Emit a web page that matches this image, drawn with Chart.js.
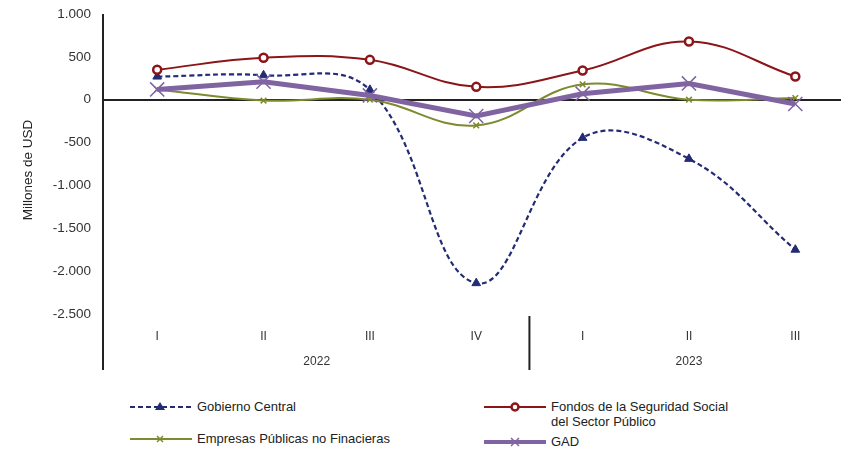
<!DOCTYPE html>
<html lang="es">
<head>
<meta charset="utf-8">
<title>Resultado por subsector</title>
<script src="https://cdn.jsdelivr.net/npm/chart.js@4.4.1/dist/chart.umd.min.js"></script>
<style>
  html, body { margin: 0; padding: 0; background: #fff; width: 841px; height: 454px; overflow: hidden; }
  #wrap { position: absolute; left: 0; top: 0; width: 860px; height: 380px; }
  .lg { position: absolute; font: 13px "Liberation Sans", Arial, sans-serif; color: #222; line-height: 15px; }
  .lg svg { position: absolute; left: 0; top: 0; }
  .lg span { position: absolute; left: 67px; top: -1px; white-space: nowrap; }
</style>
</head>
<body>
<div id="wrap"><canvas id="chart"></canvas></div>

<div class="lg" style="left:130px; top:400px;">
  <svg width="62" height="14"><line x1="0" y1="7" x2="62" y2="7" stroke="#232b74" stroke-width="2" stroke-dasharray="5,3"/>
    <polygon points="30,2 35,10 25,10" fill="#232b74"/></svg>
  <span>Gobierno Central</span>
</div>
<div class="lg" style="left:484px; top:400px;">
  <svg width="62" height="14"><line x1="0" y1="7" x2="62" y2="7" stroke="#8b1518" stroke-width="2"/>
    <circle cx="31" cy="7" r="3.5" fill="#fff" stroke="#8b1518" stroke-width="2.5"/></svg>
  <span>Fondos de la Seguridad Social<br>del Sector Público</span>
</div>
<div class="lg" style="left:130px; top:432px;">
  <svg width="62" height="14"><line x1="0" y1="7" x2="62" y2="7" stroke="#7f8a2e" stroke-width="2"/>
    <path d="M27,4 L33,10 M33,4 L27,10" stroke="#7f8a2e" stroke-width="1.5"/></svg>
  <span>Empresas Públicas no Finacieras</span>
</div>
<div class="lg" style="left:484px; top:435px;">
  <svg width="62" height="14"><line x1="0" y1="7" x2="62" y2="7" stroke="#8064a2" stroke-width="4"/>
    <path d="M27,3 L35,11 M35,3 L27,11" stroke="#8064a2" stroke-width="1.5"/></svg>
  <span>GAD</span>
</div>

<script>
// ---- data (millones de USD) ----
const quarters  = ['I', 'II', 'III', 'IV', 'I', 'II', 'III'];
const years     = ['2022', '2023'];
const yearSpans = [[0, 3], [4, 6]];          // first/last quarter index of each year
const gobiernoCentral = [270, 285, 115, -2140, -445, -690, -1750];
const fondosSeguridad = [350, 490, 465, 150, 340, 680, 270];
const empresasPublicas = [120, -10, 0, -300, 180, 0, 20];
const gad = [120, 210, 50, -190, 70, 190, -50];
const yTicks = [1000, 500, 0, -500, -1000, -1500, -2000, -2500];
const yTitle = 'Millones de USD';

const navy = '#232b74';
const red = '#8b1518';
const olive = '#7f8a2e';
const purple = '#8064a2';
const ink = '#333';
const FONT = '"Liberation Sans", Arial, sans-serif';

const fmt = v => {
    const s = Math.abs(v).toString().replace(/\B(?=(\d{3})+(?!\d))/g, '.');
    return (v < 0 ? '-' : '') + s;
};

// year row, axis extensions below the quarter labels, y title
const groupAxis = {
    id: 'groupAxis',
    afterDraw(chart) {
        const { ctx, chartArea, scales: { x } } = chart;
        ctx.save();
        ctx.strokeStyle = '#222';
        ctx.lineWidth = 2;
        ctx.beginPath();
        ctx.moveTo(chartArea.left - 1, chartArea.top);
        ctx.lineTo(chartArea.left - 1, 370);
        const sep = (x.getPixelForValue(3) + x.getPixelForValue(4)) / 2;
        ctx.moveTo(sep, chartArea.bottom + 2);
        ctx.lineTo(sep, 370);
        ctx.stroke();

        ctx.fillStyle = ink;
        ctx.font = '12px ' + FONT;
        ctx.textAlign = 'center';
        ctx.textBaseline = 'middle';
        years.forEach((yr, i) => {
            const [a, b] = yearSpans[i];
            const cx = (x.getPixelForValue(a) + x.getPixelForValue(b)) / 2;
            ctx.fillText(yr, cx, 362);
        });

        ctx.translate(28, 170);
        ctx.rotate(-Math.PI / 2);
        ctx.fillStyle = '#222';
        ctx.font = '13.5px ' + FONT;
        ctx.fillText(yTitle, 0, 0);
        ctx.restore();
    }
};

Chart.defaults.font.family = FONT;
Chart.defaults.color = ink;

new Chart(document.getElementById('chart'), {
    type: 'line',
    data: {
        labels: quarters,
        datasets: [
            {
                label: 'Gobierno Central', data: gobiernoCentral, order: 3,
                borderColor: navy, backgroundColor: navy, borderWidth: 2.2, borderDash: [5, 3],
                tension: 0.4, pointStyle: 'triangle', pointRadius: 5, pointBorderWidth: 1
            },
            {
                label: 'Fondos de la Seguridad Social del Sector Público', data: fondosSeguridad, order: 2,
                borderColor: red, backgroundColor: '#fff', borderWidth: 2,
                tension: 0.4, pointStyle: 'circle', pointRadius: 4, pointBorderWidth: 2.5
            },
            {
                label: 'Empresas Públicas no Finacieras', data: empresasPublicas, order: 1,
                borderColor: olive, backgroundColor: olive, borderWidth: 2,
                tension: 0.4, pointStyle: 'crossRot', pointRadius: 4, pointBorderWidth: 1.5
            },
            {
                label: 'GAD', data: gad, order: 0,
                borderColor: purple, backgroundColor: purple, borderWidth: 5,
                tension: 0, pointStyle: 'crossRot', pointRadius: 10, pointBorderWidth: 1.5
            }
        ]
    },
    options: {
        responsive: true, maintainAspectRatio: false, animation: false,
        layout: { padding: { top: 14, right: 6, left: 0, bottom: 0 } },
        plugins: { legend: { display: false }, tooltip: { enabled: false } },
        scales: {
            x: {
                type: 'category', offset: true,
                grid: { display: false, drawTicks: false },
                border: { display: false },
                ticks: { font: { size: 12 }, color: ink, padding: 15, maxRotation: 0, autoSkip: false },
                afterFit: s => { s.height = 66; }
            },
            y: {
                min: -2500, max: 1000,
                afterBuildTicks: s => { s.ticks = yTicks.map(v => ({ value: v })); },
                ticks: { font: { size: 13.5 }, color: ink, padding: 13, callback: v => fmt(v) },
                grid: {
                    drawTicks: false, lineWidth: 2,
                    color: c => (c.tick && c.tick.value === 0 ? '#222' : 'rgba(0,0,0,0)')
                },
                border: { display: false },
                afterFit: s => { s.width = 104; s.paddingTop = 0; s.paddingBottom = 0; }
            }
        }
    },
    plugins: [groupAxis]
});
</script>
</body>
</html>
